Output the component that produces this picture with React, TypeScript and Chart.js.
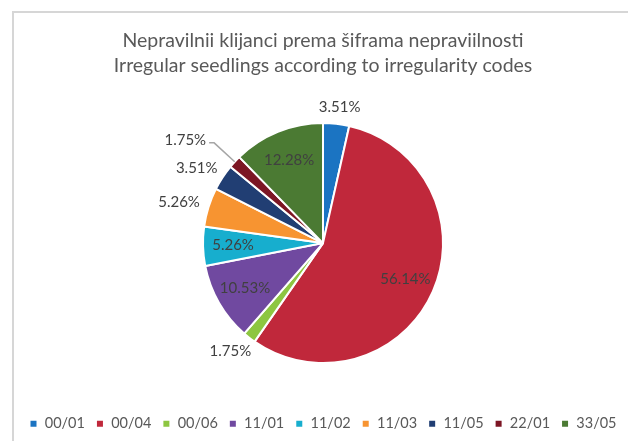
import React, { useEffect, useRef } from "react";
import { Chart, registerables } from "chart.js";

Chart.register(...registerables);

const categories = ["00/01", "00/04", "00/06", "11/01", "11/02", "11/03", "11/05", "22/01", "33/05"];
const percentages = [3.51, 56.14, 1.75, 10.53, 5.26, 5.26, 3.51, 1.75, 12.28];
const titleLines = [
  "Nepravilnii klijanci prema šiframa nepraviilnosti",
  "Irregular seedlings according to irregularity codes",
];

const colors = ["#1B74C2", "#C0283B", "#8DC641", "#7049A0", "#17AECE", "#F79431", "#213E73", "#7C1624", "#4B7A33"];
// label placement style per slice: in = inside, out = outside, leader = outside with line
const placement = ["out", "in", "out", "in", "in", "out", "out", "leader", "in"];

const FONT = "Lato, 'Open Sans', sans-serif";

const framePlugin = {
  id: "frame",
  beforeDraw(chart: any) {
    const { ctx, width, height } = chart;
    ctx.save();
    ctx.fillStyle = "#ffffff";
    ctx.fillRect(0, 0, width, height);
    ctx.strokeStyle = "#d6d6d6";
    ctx.lineWidth = 2;
    ctx.beginPath();
    ctx.moveTo(13, height);
    ctx.lineTo(13, 12);
    ctx.lineTo(width, 12);
    ctx.stroke();
    ctx.restore();
  },
};

const labelPlugin = {
  id: "sliceLabels",
  afterDatasetsDraw(chart: any) {
    const { ctx } = chart;
    const meta = chart.getDatasetMeta(0);
    ctx.save();
    ctx.font = `15px ${FONT}`;
    ctx.fillStyle = "#404040";
    ctx.textBaseline = "middle";
    meta.data.forEach((arc: any, i: number) => {
      const { x, y, startAngle, endAngle, outerRadius } = arc.getProps(
        ["x", "y", "startAngle", "endAngle", "outerRadius"],
        true
      );
      const mid = (startAngle + endAngle) / 2;
      const c = Math.cos(mid);
      const s = Math.sin(mid);
      const text = percentages[i].toFixed(2) + "%";
      const w = ctx.measureText(text).width;
      const mode = placement[i];
      if (mode === "in") {
        const d = outerRadius * 0.75;
        ctx.textAlign = "center";
        ctx.fillText(text, x + d * c, y + d * s);
      } else if (mode === "out") {
        const d = outerRadius + 9;
        const px = x + d * c;
        const py = y + d * s;
        ctx.textAlign = "center";
        ctx.fillText(text, px + (w / 2 + 1) * c, py + 8 * s);
      } else {
        const x0 = x + outerRadius * c;
        const y0 = y + outerRadius * s;
        const x1 = x + (outerRadius + 28) * c;
        const y1 = y + (outerRadius + 28) * s;
        const dir = c < 0 ? -1 : 1;
        const x2 = x1 + dir * 5;
        ctx.strokeStyle = "#a6a6a6";
        ctx.lineWidth = 1.5;
        ctx.beginPath();
        ctx.moveTo(x0, y0);
        ctx.lineTo(x1, y1);
        ctx.lineTo(x2, y1);
        ctx.stroke();
        ctx.textAlign = dir < 0 ? "right" : "left";
        ctx.fillText(text, x2 + dir * 3, y1 - 3);
      }
    });
    ctx.restore();
  },
};

export default function App() {
  const ref = useRef<HTMLCanvasElement | null>(null);
  useEffect(() => {
    if (!ref.current) return;
    const chart = new Chart(ref.current, {
      type: "pie",
      data: {
        labels: categories,
        datasets: [
          {
            data: percentages,
            backgroundColor: colors,
            borderColor: "#ffffff",
            borderWidth: 2,
            radius: 120,
          },
        ],
      },
      options: {
        animation: false,
        responsive: false,
        maintainAspectRatio: false,
        layout: { padding: { left: 18, right: 0, top: 0, bottom: 0 } },
        plugins: {
          title: {
            display: true,
            text: titleLines,
            color: "#595959",
            font: { family: FONT, size: 19.5, weight: "normal", lineHeight: 1.3 },
            padding: { top: 28, bottom: 2 },
          },
          legend: {
            position: "bottom",
            labels: {
              color: "#595959",
              font: { family: FONT, size: 14.5 },
              boxWidth: 8,
              boxHeight: 8,
              padding: 11,
            },
          },
          tooltip: { enabled: false },
        },
      },
      plugins: [framePlugin, labelPlugin],
    });
    return () => chart.destroy();
  }, []);
  return (
    <div style={{ position: "fixed", left: 0, top: 0, width: 628, height: 441 }}>
      <canvas ref={ref} width={628} height={441} />
    </div>
  );
}
